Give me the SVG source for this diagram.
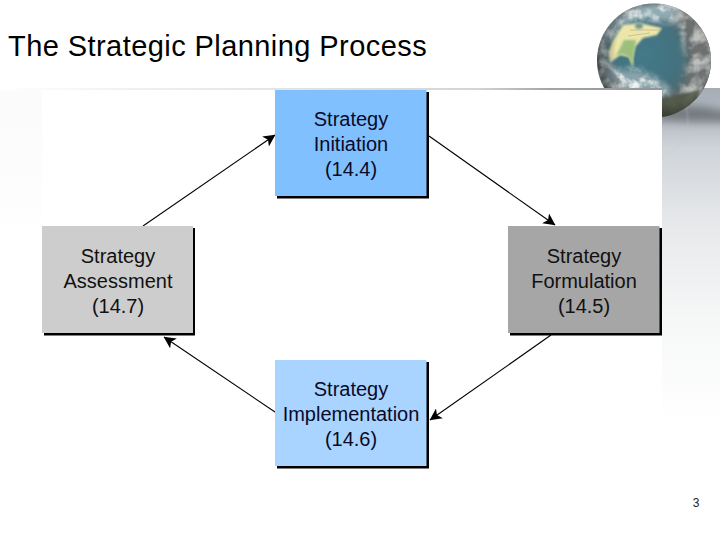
<svg xmlns="http://www.w3.org/2000/svg" width="720" height="540" viewBox="0 0 720 540">
<style>
.t{font-family:"Liberation Sans",Arial,sans-serif;font-size:20px;text-anchor:middle;fill:#0a0a28}
.k{font-family:"Liberation Sans",Arial,sans-serif;font-size:20px;text-anchor:middle;fill:#111}
.s{fill:#000}
.c{stroke:#000;stroke-width:1.1;fill:none;marker-end:url(#a)}
</style>
<defs>
<marker id="a" viewBox="0 0 12 12" refX="11.500" refY="6" markerWidth="12" markerHeight="12" markerUnits="userSpaceOnUse" orient="auto"><path d="M0 0L12 6L0 12L3 6Z" fill="#000"/></marker>
<linearGradient id="top" x1="0" x2="1" y1="0" y2="0"><stop offset="0" stop-color="#fff"/><stop offset=".2" stop-color="#f0f0f0"/><stop offset=".72" stop-color="#d4d4d4"/><stop offset=".83" stop-color="#a0a6a8"/><stop offset="1" stop-color="#8f9698"/></linearGradient>
<linearGradient id="side" gradientUnits="userSpaceOnUse" x1="0" x2="0" y1="88" y2="420"><stop offset="0" stop-color="#a6adb6"/><stop offset=".1" stop-color="#b6bcc4"/><stop offset=".18" stop-color="#cfd4d9"/><stop offset=".4" stop-color="#e6e8ea"/><stop offset=".7" stop-color="#f6f7f7"/><stop offset="1" stop-color="#fff"/></linearGradient>
<linearGradient id="left" x1="0" x2="0" y1="0" y2="1"><stop offset="0" stop-color="#fbfbfb"/><stop offset=".7" stop-color="#fdfdfd"/><stop offset="1" stop-color="#fff"/></linearGradient>
<radialGradient id="g" cx=".42" cy=".45" r=".6"><stop offset="0" stop-color="#437a89"/><stop offset=".5" stop-color="#44717e"/><stop offset=".8" stop-color="#566668"/><stop offset="1" stop-color="#3b4240"/></radialGradient>
<radialGradient id="sh" cx=".6" cy=".44" r=".6"><stop offset=".72" stop-color="#000" stop-opacity="0"/><stop offset="1" stop-color="#000" stop-opacity=".5"/></radialGradient>
<filter id="b1" x="-30%" y="-30%" width="160%" height="160%"><feGaussianBlur stdDeviation="1.2"/></filter>
<filter id="b3" x="-30%" y="-30%" width="160%" height="160%"><feGaussianBlur stdDeviation="3"/></filter>
<filter id="b4" x="-40%" y="-80%" width="180%" height="260%"><feGaussianBlur stdDeviation="4"/></filter>
<filter id="cw" x="-10%" y="-10%" width="120%" height="120%"><feGaussianBlur in="SourceAlpha" stdDeviation="3.500" result="m"/><feTurbulence type="fractalNoise" baseFrequency=".1" numOctaves="3" seed="7"/><feColorMatrix values="0 0 0 0 .88 0 0 0 0 .9 0 0 0 0 .9 3 0 0 0 -1.2"/><feGaussianBlur stdDeviation=".6"/><feComposite in2="m" operator="in"/></filter>
<filter id="cg" x="-10%" y="-10%" width="120%" height="120%"><feGaussianBlur in="SourceAlpha" stdDeviation="3" result="m"/><feTurbulence type="fractalNoise" baseFrequency=".07" numOctaves="3" seed="12"/><feColorMatrix values="0 0 0 0 .5 0 0 0 0 .52 0 0 0 0 .5 3 0 0 0 -1.1"/><feComposite in2="m" operator="in"/></filter>
<clipPath id="gc"><circle cx="654" cy="60.500" r="57"/></clipPath>
</defs>
<rect width="720" height="540" fill="#fff"/>
<rect x="0" y="88" width="42" height="150" fill="url(#left)"/>
<rect x="662" y="88" width="58" height="332" fill="url(#side)"/>
<path d="M650 106L700 106L730 112L730 122L690 122L650 120Z" fill="#5f6569" opacity=".75" filter="url(#b4)"/>
<circle cx="650" cy="120" r="38" fill="none" stroke="#c2c8cc" stroke-width="1" opacity=".5" filter="url(#b1)"/>
<g id="globe">
<circle cx="654" cy="60.500" r="57" fill="url(#g)"/>
<g clip-path="url(#gc)">
<path d="M672 4L720 4L720 120L640 120L660 104L684 90L690 60L684 30Z" fill="#6d7070" filter="url(#b3)"/>
<path d="M672 10L720 10L720 110L660 118L680 90L688 60Z" filter="url(#cg)"/>
<path d="M650 100L700 90L690 120L640 120Z" fill="#4f5544" opacity=".85" filter="url(#b1)"/>
<path d="M600 4L680 4L672 22L640 18L618 30L596 50Z" fill="#a9c2c8" opacity=".75" filter="url(#b3)"/>
<path d="M600 4L680 4L672 22L640 18L618 30L596 50Z" filter="url(#cw)"/>
<path d="M623 25L640 23L662 28L657 35L643 38L635 47L633 58L633 67L629 57L620 55L610 63L608 53L613 40Z" fill="#ece6aa" filter="url(#b1)"/>
<path d="M624 40L636 40L635 47L633 58L633 67L629 57L622 54L616 56Z" fill="#9cbf7e" filter="url(#b1)"/>
<path d="M630 30L660 30M628 36L650 33" stroke="#b49a80" stroke-width=".7" opacity=".7" fill="none"/>
<ellipse cx="639" cy="26" rx="4" ry="3" fill="#6f9a92" filter="url(#b1)"/>
<path d="M596 35L608 22L606 50L610 70L640 70L662 84L672 92L640 100L610 96L596 80Z" fill="#b9c4c6" opacity=".6" filter="url(#b3)"/>
<path d="M596 35L608 22L606 50L610 70L640 70L662 84L672 92L640 100L610 96L596 80Z" filter="url(#cw)"/>
<circle cx="654" cy="60.500" r="57" fill="url(#sh)"/>
</g>
</g>
<rect x="0" y="88" width="662" height="2.500" fill="url(#top)"/>
<rect x="42" y="90" width="620" height="450" fill="#fff"/>
<text x="8" y="56" style="font-family:'Liberation Sans',Arial,sans-serif;font-size:29px;letter-spacing:.43px;fill:#000">The Strategic Planning Process</text>
<g id="connectors">
<line class="c" x1="143" y1="226" x2="275" y2="135"/>
<line class="c" x1="429" y1="136" x2="555" y2="225"/>
<line class="c" x1="551" y1="335" x2="430" y2="420"/>
<line class="c" x1="275" y1="412" x2="164" y2="337"/>
</g>
<g id="strategy-initiation">
<rect class="s" x="277" y="92" width="152" height="106.500"/>
<rect x="275" y="90" width="151.500" height="106" fill="#80c0ff"/>
<text class="t" x="351" y="126">Strategy</text><text class="t" x="351" y="151">Initiation</text><text class="t" x="351" y="176">(14.4)</text>
</g>
<g id="strategy-formulation">
<rect class="s" x="510" y="228" width="152" height="107.500"/>
<rect x="508" y="226" width="151.500" height="107" fill="#a6a6a6"/>
<text class="k" x="584" y="263">Strategy</text><text class="k" x="584" y="288">Formulation</text><text class="k" x="584" y="313">(14.5)</text>
</g>
<g id="strategy-implementation">
<rect class="s" x="277" y="362" width="152" height="106.500"/>
<rect x="275" y="360" width="151.500" height="106" fill="#a8d4ff"/>
<text class="t" x="351" y="396">Strategy</text><text class="t" x="351" y="421">Implementation</text><text class="t" x="351" y="446">(14.6)</text>
</g>
<g id="strategy-assessment">
<rect class="s" x="44" y="228" width="151" height="107.500"/>
<rect x="42" y="226" width="151" height="107" fill="#cdcdcd"/>
<text class="k" x="118" y="263">Strategy</text><text class="k" x="118" y="288">Assessment</text><text class="k" x="118" y="313">(14.7)</text>
</g>
<text x="696" y="507" style="font-family:'Liberation Sans',Arial,sans-serif;font-size:12px;text-anchor:middle;fill:#222">3</text>
</svg>
